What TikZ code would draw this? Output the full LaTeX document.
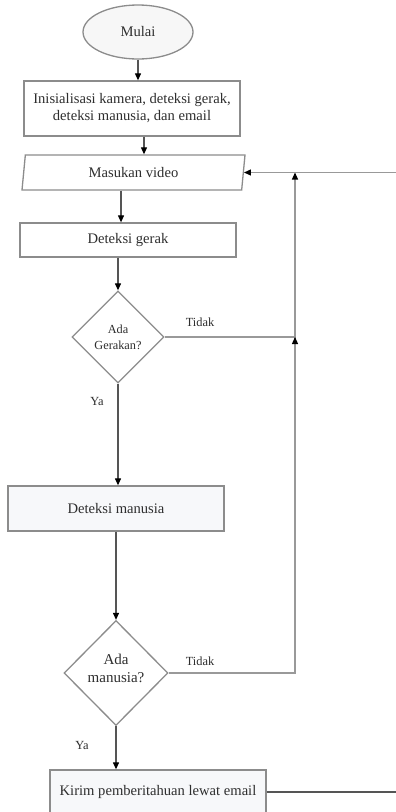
\documentclass[tikz,border=0pt]{standalone}
\usepackage{fontspec}
\setmainfont{Liberation Serif}
\usetikzlibrary{shapes.geometric,arrows.meta}
\definecolor{edge}{HTML}{8C8C8C}
\definecolor{conn}{HTML}{555555}
\definecolor{loopc}{HTML}{999999}
\definecolor{txt}{HTML}{2E2E2E}
\definecolor{softfill}{HTML}{F7F8FA}
\tikzset{
  every node/.style={text=txt},
  procbox/.style={draw=edge, line width=1.3pt, rectangle, minimum width=216pt, inner sep=0pt, align=center,
    font=\fontsize{14.6}{17}\selectfont},
  decbox/.style={draw=edge, line width=1.3pt, diamond, inner sep=0pt, align=center},
  lbl/.style={font=\fontsize{12.4}{14}\selectfont, inner sep=0pt},
  tip/.style={-{Triangle[length=7pt,width=6pt,color=black]}},
  arr/.style={draw=conn, line width=1.1pt, tip},
  plain/.style={draw=conn, line width=1.1pt},
  loopline/.style={draw=loopc, line width=1.3pt},
}
\begin{document}
\begin{tikzpicture}[x=1pt,y=-1pt]
\useasboundingbox (0,0) rectangle (396,812);
\clip (0,0) rectangle (396,812);
\fill[white] (0,0) rectangle (396,812);

\node[ellipse, draw=edge, line width=1.3pt, fill=black!3, minimum width=110pt, minimum height=54pt, inner sep=0pt,
  font=\fontsize{14.6}{17}\selectfont] (mulai) at (138,32) {Mulai};
\node[procbox, minimum height=55pt] (init) at (132,108.5) {Inisialisasi kamera, deteksi gerak,\\deteksi manusia, dan email};
\node[trapezium, trapezium left angle=72, trapezium right angle=108, trapezium stretches body, draw=edge, line width=1.3pt,
  minimum width=223pt, minimum height=35pt, inner sep=0pt, font=\fontsize{14.6}{17}\selectfont] (para) at (133.5,172.5) {Masukan video};
\node[procbox, minimum height=34pt] (gerak) at (128,240) {Deteksi gerak};
\node[decbox, minimum width=92pt, minimum height=92pt, font=\fontsize{12.3}{16}\selectfont] (d1) at (118,337) {Ada\\Gerakan?};
\node[procbox, minimum height=45pt, fill=softfill] (manusia) at (116,508.5) {Deteksi manusia};
\node[decbox, minimum width=104pt, minimum height=105pt] (d2) at (116,673) {};
\node[align=center, inner sep=0pt, font=\fontsize{15}{18}\selectfont] (d2t) at (116,668) {Ada\\manusia?};
\node[procbox, minimum height=44pt, fill=softfill] (kirim) at (158,792) {Kirim pemberitahuan lewat email};

\node[lbl] (t1) at (200,322) {Tidak};
\node[lbl] (t2) at (200,661) {Tidak};
\node[lbl] (y1) at (97,401) {Ya};
\node[lbl] (y2) at (82,745) {Ya};

\coordinate (xv) at (295,0);
\coordinate (edgeR) at (396,0);

\draw[arr] (mulai.south) -- (mulai.south |- init.north);
\draw[arr] ([xshift=12pt]init.south) -- ([xshift=12pt]init.south |- para.north);
\draw[arr] ([xshift=-12.5pt]para.south) -- ([xshift=-12.5pt]para.south |- gerak.north);
\draw[arr] (gerak.south -| d1.north) -- (d1.north);
\draw[arr] (d1.south) -- (d1.south |- manusia.north);
\draw[arr] (manusia.south -| d2.north) -- (d2.north);
\draw[arr] (d2.south) -- (d2.south |- kirim.north);

\draw[loopline] (d1.east) -- (xv |- d1.east);
\draw[loopline] (d2.east) -- (xv |- d2.east) -- (xv |- d1.east);
\draw[loopline, tip] (xv |- d2.east) -- (xv |- d1.east);
\draw[loopline, tip] (xv |- d1.east) -- (xv |- para.east);
\draw[loopline, tip] (edgeR |- para.east) -- (para.east);
\draw[plain] (kirim.east) -- (kirim.east -| edgeR);
\end{tikzpicture}
\end{document}
